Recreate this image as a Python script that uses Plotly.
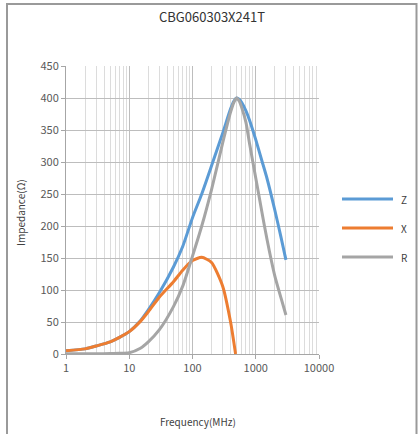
import plotly.graph_objects as go

# ---- data ----
title_text = "CBG060303X241T"
series_names = ["Z", "X", "R"]
series_colors = ["#5B9BD5", "#ED7D31", "#A5A5A5"]

freq_zr = [1, 2, 3, 5, 7, 10, 15, 20, 30, 50, 70, 100, 140, 200, 300, 400, 450, 500, 550, 600, 700, 800, 1000, 1250, 1500, 2000, 2500, 3000]
z_vals = [5, 8, 12.5, 19, 26, 35, 52, 69, 96, 136, 168, 213, 250, 294, 345, 383, 395, 400, 398, 393, 380, 365, 335, 302, 275, 225, 183, 147]
r_vals = [0.5, 0.5, 0.5, 0.7, 1, 2, 9, 19, 38, 74, 106, 153, 200, 257, 330, 378, 393, 400, 395, 385, 362, 328, 275, 222, 180, 122, 88, 61]

freq_x = [1, 2, 3, 5, 7, 10, 15, 20, 30, 50, 70, 100, 140, 200, 300, 400, 480]
x_vals = [5, 8, 12.5, 19, 26, 35, 51, 66, 89, 113, 131, 146, 151, 143, 106, 50, 0]

x_tickvals = [1, 10, 100, 1000, 10000]
x_ticktext = ["1", "10", "100", "1000", "10000"]
y_range = [0, 450]
y_dtick = 50
x_title = "Frequency(MHz)"
y_title = "Impedance(Ω)"

FONT = "Noto Sans CJK KR"

fig = go.Figure()
freqs = [freq_zr, freq_x, freq_zr]
vals = [z_vals, x_vals, r_vals]
for name, color, fx, fy in zip(series_names, series_colors, freqs, vals):
    fig.add_trace(go.Scatter(x=fx, y=fy, mode="lines", name=name,
                             line=dict(color=color, width=3, shape="spline", smoothing=0.6),
                             showlegend=False))

W, H = 419, 434
L, R, T, B = 66, 100, 66, 80
pw, ph = W - L - R, H - T - B

def px2x(p):
    return (p - L) / pw

def py2y(p):
    return (H - B - p) / ph

minor_vals = []
for d in [1, 10, 100, 1000]:
    for k in range(2, 10):
        minor_vals.append(d * k)

fig.update_layout(
    width=W, height=H,
    margin=dict(l=L, r=R, t=T, b=B),
    paper_bgcolor="white", plot_bgcolor="white",
    font=dict(family=FONT, size=11, color="#595959"),
    title=dict(text=title_text, x=212 / W, xanchor="center", y=1 - 17 / H, yanchor="middle",
               font=dict(family=FONT, size=13, color="#333333")),
    xaxis=dict(type="log", range=[0, 4], tickmode="array", tickvals=x_tickvals, ticktext=x_ticktext,
               showgrid=True, gridcolor="#bdbdbd", gridwidth=1,
               showline=True, linecolor="#a6a6a6", linewidth=1,
               ticks="outside", ticklen=4, tickcolor="#a6a6a6",
               tickfont=dict(family=FONT, size=11, color="#595959"),
               minor=dict(tickmode="array", tickvals=minor_vals, showgrid=True,
                          gridcolor="#dcdcdc", gridwidth=1, ticks=""),
               zeroline=False, fixedrange=True),
    yaxis=dict(range=y_range, dtick=y_dtick, showgrid=True, gridcolor="#bdbdbd", gridwidth=1,
               showline=True, linecolor="#a6a6a6", linewidth=1,
               ticks="outside", ticklen=4, tickcolor="#a6a6a6",
               tickfont=dict(family=FONT, size=11, color="#595959"),
               zeroline=False, fixedrange=True),
)

shapes = [dict(type="rect", xref="paper", yref="paper",
               x0=px2x(7), x1=px2x(416.5), y0=py2y(440), y1=py2y(4),
               line=dict(color="#9a9a9a", width=2), fillcolor="rgba(0,0,0,0)", layer="below")]
annotations = [
    dict(text=y_title, xref="paper", yref="paper", x=px2x(20), y=py2y(213), textangle=-90,
         showarrow=False, xanchor="center", yanchor="middle",
         font=dict(family=FONT, size=10, color="#404040")),
    dict(text=x_title, xref="paper", yref="paper", x=px2x(198), y=py2y(421),
         showarrow=False, xanchor="center", yanchor="middle",
         font=dict(family=FONT, size=10, color="#404040")),
]
leg_y = [199, 228, 257]
for name, color, ly in zip(series_names, series_colors, leg_y):
    shapes.append(dict(type="line", xref="paper", yref="paper", x0=px2x(342), x1=px2x(393),
                       y0=py2y(ly), y1=py2y(ly), line=dict(color=color, width=3)))
    annotations.append(dict(text=name, xref="paper", yref="paper", x=px2x(399), y=py2y(ly),
                            showarrow=False, xanchor="left", yanchor="middle",
                            font=dict(family=FONT, size=10, color="#404040")))
fig.update_layout(shapes=shapes, annotations=annotations)

fig.write_html("out.html", config={"displayModeBar": False},
               post_script="document.body.style.margin='0';document.body.style.overflow='hidden';")
